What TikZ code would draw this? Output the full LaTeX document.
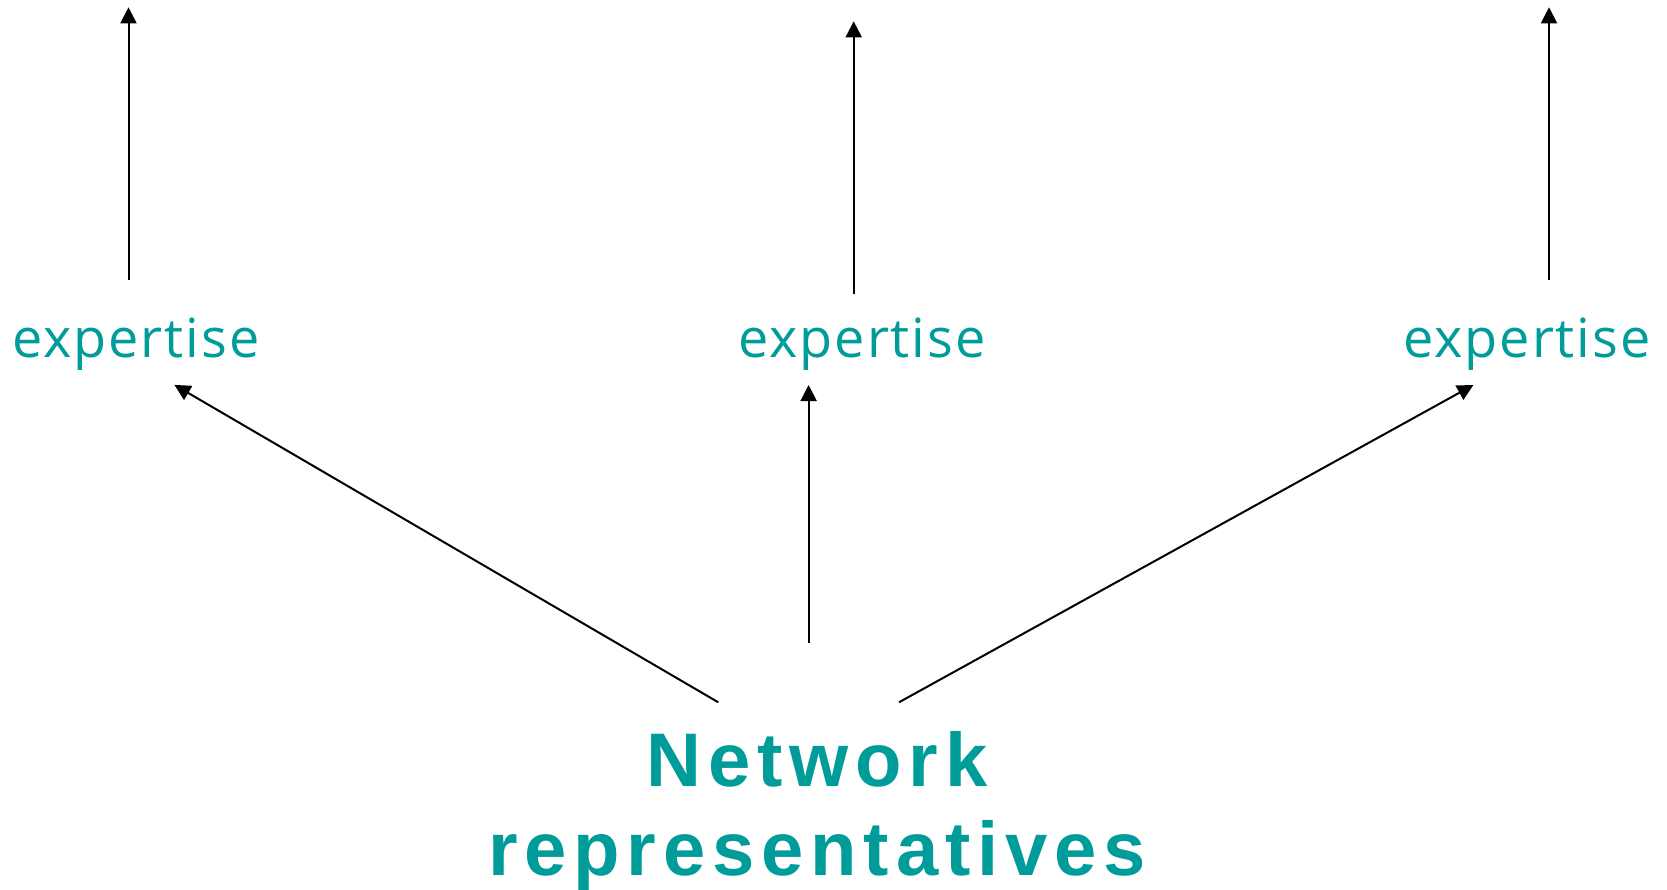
\documentclass[tikz,border=0pt]{standalone}
\usepackage{fontspec}
\usetikzlibrary{arrows.meta}
\newfontfamily\expfont[LetterSpace=3.6]{Open Sans}
\newfontfamily\netfont[LetterSpace=9]{Liberation Sans}
\definecolor{teal}{HTML}{009C99}
\tikzset{
  explabel/.style={anchor=base, inner sep=0pt, text=teal, font=\expfont\fontsize{54}{60}\selectfont},
  netlabel/.style={anchor=base, inner sep=0pt, text=teal, align=center, font=\netfont\bfseries\fontsize{76}{88.5}\selectfont},
  arr/.style={line width=2pt, -{Triangle[width=16pt,length=16pt]}}
}
\begin{document}
\begin{tikzpicture}[x=1pt,y=-1pt]
\useasboundingbox (0,0) rectangle (1667,890);
\node[explabel] (e1) at (136,357) {expertise};
\node[explabel] (e2) at (862,357) {expertise};
\node[explabel] (e3) at (1527,357) {expertise};
\node[netlabel] (net) at (817,875) {Network\\representatives};
% top arrow coordinates
\coordinate (t1s) at (128.5,279.6);
\coordinate (t1e) at (128.5,7.3);
\coordinate (t2s) at (853.7,294.5);
\coordinate (t2e) at (853.7,21.3);
\coordinate (t3s) at (1549,279.6);
\coordinate (t3e) at (1549,7.3);
% lower arrow coordinates
\coordinate (b1s) at (718.3,702.3);
\coordinate (b1e) at (174.4,384.9);
\coordinate (b2s) at (808.6,642.7);
\coordinate (b2e) at (808.6,385);
\coordinate (b3s) at (899,702.3);
\coordinate (b3e) at (1473.4,385);
\draw[arr] (t1s) -- (t1e);
\draw[arr] (t2s) -- (t2e);
\draw[arr] (t3s) -- (t3e);
\draw[arr] (b1s) -- (b1e);
\draw[arr] (b2s) -- (b2e);
\draw[arr] (b3s) -- (b3e);
\end{tikzpicture}
\end{document}
